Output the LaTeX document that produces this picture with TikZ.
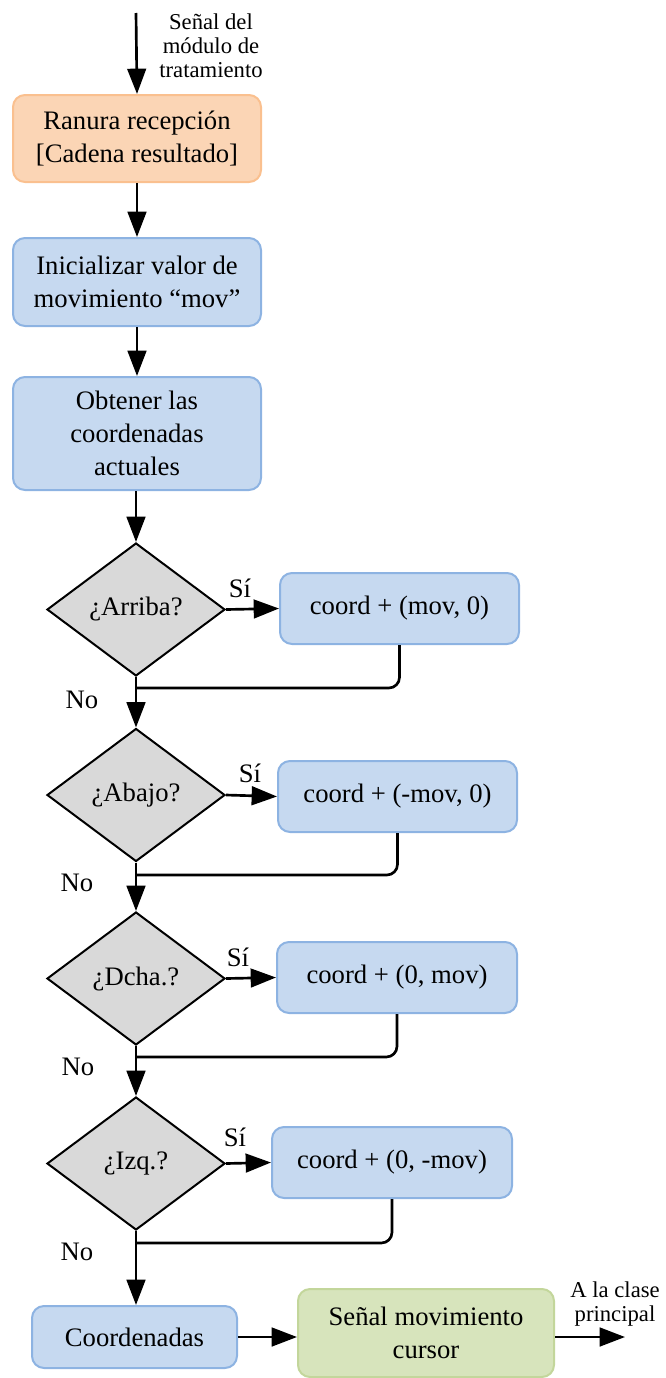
\documentclass[tikz,border=0pt]{standalone}
\usepackage{fontspec}
\setmainfont{Liberation Serif}
\usetikzlibrary{arrows.meta,shapes.geometric}

\definecolor{blueFill}{HTML}{C6D9F0}
\definecolor{blueLine}{HTML}{8DB3E2}
\definecolor{orangeFill}{HTML}{FBD5B5}
\definecolor{orangeLine}{HTML}{FAC08F}
\definecolor{greenFill}{HTML}{D7E4BC}
\definecolor{greenLine}{HTML}{C3D69B}
\definecolor{grayFill}{HTML}{D9D9D9}

\newcommand{\bigtext}{\fontsize{20pt}{24.5pt}\selectfont}
\newcommand{\smalltext}{\fontsize{17pt}{18pt}\selectfont}

\begin{document}
\begin{tikzpicture}[x=0.75pt, y=-0.75pt,
  box/.style={rounded corners=9pt, line width=1.5pt, align=center,
              font=\bigtext, inner sep=0pt},
  proc/.style={box, draw=blueLine, fill=blueFill},
  slot/.style={box, draw=orangeLine, fill=orangeFill},
  signal/.style={box, draw=greenLine, fill=greenFill},
  decision/.style={diamond, draw=black, fill=grayFill, line width=1.5pt,
                   inner sep=0pt, font=\bigtext,
                   minimum width=133.5pt, minimum height=99.75pt},
  conn/.style={line width=2pt, draw=black},
  flow/.style={conn, -{Triangle[length=19pt, width=14pt]}},
  lbl/.style={font=\bigtext, inner sep=0pt},
  note/.style={font=\smalltext, align=center, inner sep=0pt}
]
\useasboundingbox (0,0) rectangle (665,1378);

% main column
\coordinate (start) at (136,13);
\node[note] (srcnote) at (211,46) {Señal del\\módulo de\\tratamiento};
\node[slot, minimum width=186pt, minimum height=65.25pt] (recv) at (137,138.5)
  {Ranura recepción\\{[}Cadena resultado{]}};
\node[proc, minimum width=186pt, minimum height=66pt] (init) at (137,282)
  {Inicializar valor de\\movimiento “mov”};
\node[proc, minimum width=186pt, minimum height=84.75pt] (getc) at (137,433.5)
  {Obtener las\\coordenadas\\actuales};

% decisions
\node[decision] (d1) at (136,609.5) {¿Arriba?};
\node[decision] (d2) at (136,795) {¿Abajo?};
\node[decision] (d3) at (136,978.5) {¿Dcha.?};
\node[decision] (d4) at (136,1163.5) {¿Izq.?};

% coordinate updates
\node[proc, minimum width=179.25pt, minimum height=53.25pt] (s1) at (399.5,608.5) {coord + (mov, 0)};
\node[proc, minimum width=179.25pt, minimum height=53.25pt] (s2) at (397.5,796.5) {coord + (-mov, 0)};
\node[proc, minimum width=180pt, minimum height=53.25pt] (s3) at (397,977.5) {coord + (0, mov)};
\node[proc, minimum width=180pt, minimum height=53.25pt] (s4) at (392,1162.5) {coord + (0, -mov)};

% merge points below each decision
\coordinate (m1) at (136,688);
\coordinate (m2) at (136,875);
\coordinate (m3) at (136,1057);
\coordinate (m4) at (136,1243);

% outputs
\node[proc, minimum width=153.75pt, minimum height=46.5pt] (coords) at (134.5,1337) {Coordenadas};
\node[signal, minimum width=192pt, minimum height=66pt] (sig) at (426,1333)
  {Señal movimiento\\cursor};
\coordinate (out) at (625,1337);
\node[note] (outnote) at (615,1304) {A la clase\\principal};

% labels
\node[lbl] (y1) at (240,588) {Sí};
\node[lbl] (y2) at (250,773) {Sí};
\node[lbl] (y3) at (238,957) {Sí};
\node[lbl] (y4) at (235,1137) {Sí};
\node[lbl] (n1) at (82,700) {No};
\node[lbl] (n2) at (77,883) {No};
\node[lbl] (n3) at (78,1067) {No};
\node[lbl] (n4) at (77,1252) {No};

% connectors
\draw[flow] (start) -- (recv.south |- recv.north);
\draw[flow] (recv.south) -- (init.north);
\draw[flow] (init.south) -- (getc.north);
\draw[flow] (getc.south -| d1.north) -- (d1.north);
\draw[flow] (d1.south) -- (d2.north);
\draw[flow] (d2.south) -- (d3.north);
\draw[flow] (d3.south) -- (d4.north);
\draw[flow] (d4.south) -- (d4.south |- coords.north);

\draw[flow] (d1.east) -- (s1.west);
\draw[flow] (d2.east) -- (s2.west);
\draw[flow] (d3.east) -- (s3.west);
\draw[flow] (d4.east) -- (s4.west);

\draw[conn, rounded corners=8pt] (s1.south) |- (m1);
\draw[conn, rounded corners=8pt] (s2.south) |- (m2);
\draw[conn, rounded corners=8pt] (s3.south) |- (m3);
\draw[conn, rounded corners=8pt] (s4.south) |- (m4);

\draw[flow] (coords.east) -- (coords.east -| sig.west);
\draw[flow] (sig.east |- out) -- (out);
\end{tikzpicture}
\end{document}
